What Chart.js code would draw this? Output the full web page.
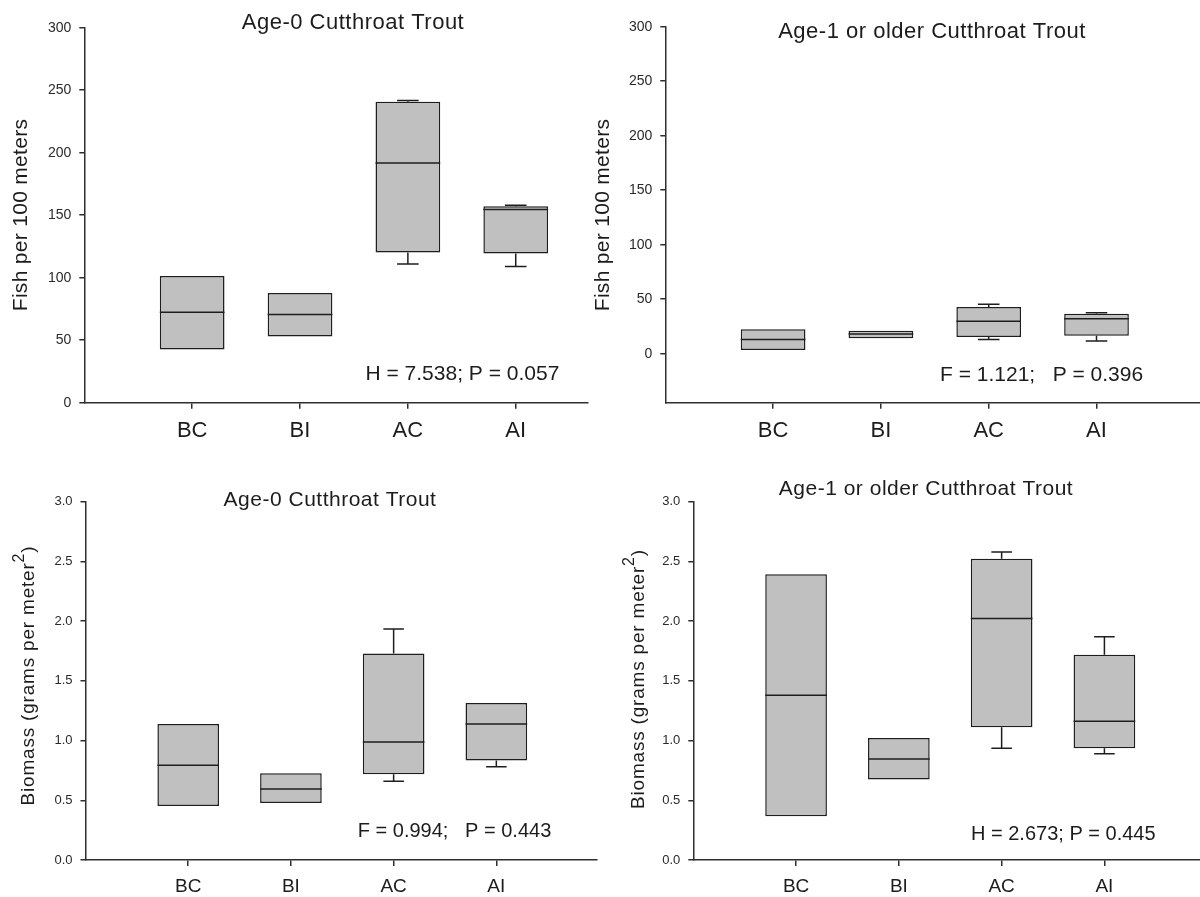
<!DOCTYPE html>
<html>
<head>
<meta charset="utf-8">
<title>Cutthroat Trout density and biomass</title>
<script src="https://cdn.jsdelivr.net/npm/chart.js@4.4.1/dist/chart.umd.min.js"></script>
<style>
  html, body { margin: 0; padding: 0; background: #fff; }
  #page { position: relative; width: 1200px; height: 897px; overflow: hidden; background: #fff; }
  #page canvas { position: absolute; display: block; }
</style>
</head>
<body>
<div id="page">
  <canvas id="density-age0" width="600" height="450" style="left:0;top:0"></canvas>
  <canvas id="density-age1" width="610" height="450" style="left:590px;top:0"></canvas>
  <canvas id="biomass-age0" width="600" height="447" style="left:0;top:450px"></canvas>
  <canvas id="biomass-age1" width="600" height="447" style="left:600px;top:450px"></canvas>
</div>
<script>
// Sites: before/after, control/impact
const categories = ['BC', 'BI', 'AC', 'AI'];

const densityTicks = [0, 50, 100, 150, 200, 250, 300];
const biomassTicks = [0, 0.5, 1.0, 1.5, 2.0, 2.5, 3.0];

// Age-0 density (fish per 100 m)
const densAge0Q1 = [42.6, 52.9, 120.2, 119.4];
const densAge0Median = [72.3, 70.5, 191.8, 154.5];
const densAge0Q3 = [101.3, 87.8, 240.7, 157.2];
const densAge0WhiskerLow = [null, null, 110.9, 109.0];
const densAge0WhiskerHigh = [null, null, 241.8, 157.9];

// Age-1+ density (fish per 100 m)
const densAge1Q1 = [3.4, 14.1, 15.3, 16.5];
const densAge1Median = [12.9, 18.1, 29.7, 32.1];
const densAge1Q3 = [22.3, 21.1, 42.9, 36.7];
const densAge1WhiskerLow = [null, null, 12.9, 11.6];
const densAge1WhiskerHigh = [null, null, 45.3, 37.6];

// Age-0 biomass (g per m2)
const bioAge0Q1 = [0.452, 0.477, 0.717, 0.834];
const bioAge0Median = [0.793, 0.594, 0.988, 1.139];
const bioAge0Q3 = [1.139, 0.726, 1.730, 1.315];
const bioAge0WhiskerLow = [null, null, 0.659, 0.781];
const bioAge0WhiskerHigh = [null, null, 1.934, null];

// Age-1+ biomass (g per m2)
const bioAge1Q1 = [0.366, 0.673, 1.111, 0.935];
const bioAge1Median = [1.379, 0.846, 2.023, 1.161];
const bioAge1Q3 = [2.392, 1.021, 2.523, 1.719];
const bioAge1WhiskerLow = [null, null, 0.935, 0.890];
const bioAge1WhiskerHigh = [null, null, 2.579, 1.870];

const FONT = '"Liberation Sans", Arial, sans-serif';
const TEXT_COLOR = '#1c1c1c';
const AXIS_COLOR = '#2e2e2e';
const BOX_FILL = '#c0c0c0';
const BOX_LINE = '#1e1e1e';

// Whiskers (drawn under the boxes) and median lines (drawn on top)
function boxDetails(s) {
  return {
    id: 'boxDetails',
    beforeDatasetsDraw(chart) {
      const { ctx, scales: { x, y } } = chart;
      const capHalf = Math.abs(x.getPixelForValue(0.1) - x.getPixelForValue(0));
      ctx.save();
      ctx.strokeStyle = BOX_LINE;
      ctx.lineWidth = 1.5;
      s.q1.forEach((lo, i) => {
        const px = x.getPixelForValue(i + 1);
        [[s.low[i], lo], [s.high[i], s.q3[i]]].forEach(([end, edge]) => {
          if (end == null) return;
          const ye = y.getPixelForValue(end);
          const yb = y.getPixelForValue(edge);
          ctx.beginPath();
          ctx.moveTo(px, yb);
          ctx.lineTo(px, ye);
          ctx.moveTo(px - capHalf, ye);
          ctx.lineTo(px + capHalf, ye);
          ctx.stroke();
        });
      });
      ctx.restore();
    },
    afterDatasetsDraw(chart) {
      const { ctx, scales: { y } } = chart;
      const meta = chart.getDatasetMeta(0);
      ctx.save();
      ctx.strokeStyle = BOX_LINE;
      ctx.lineWidth = 1.5;
      meta.data.forEach((bar, i) => {
        const ym = y.getPixelForValue(s.median[i]);
        const half = bar.width / 2;
        ctx.beginPath();
        ctx.moveTo(bar.x - half, ym);
        ctx.lineTo(bar.x + half, ym);
        ctx.stroke();
      });
      ctx.restore();
    }
  };
}

// Panel title, test statistic and rotated y title (may carry a superscript)
function panelText(t) {
  return {
    id: 'panelText',
    afterDraw(chart) {
      const ctx = chart.ctx;
      ctx.save();
      ctx.fillStyle = TEXT_COLOR;
      ctx.textBaseline = 'middle';

      ctx.font = `${t.titleSize}px ${FONT}`;
      ctx.letterSpacing = '0.5px';
      ctx.textAlign = 'center';
      ctx.fillText(t.title, t.titleX, t.titleY);

      ctx.letterSpacing = '0px';
      ctx.textAlign = 'left';
      ctx.font = `${t.statSize}px ${FONT}`;
      ctx.fillText(t.stat, t.statX, t.statY);

      ctx.translate(t.axisX, t.axisY);
      ctx.rotate(-Math.PI / 2);
      ctx.letterSpacing = t.axisSpacing;
      const widths = t.axisParts.map(p => {
        ctx.font = `${p.size}px ${FONT}`;
        return ctx.measureText(p.text).width;
      });
      let pos = -widths.reduce((a, b) => a + b, 0) / 2;
      t.axisParts.forEach((p, i) => {
        ctx.font = `${p.size}px ${FONT}`;
        ctx.fillText(p.text, pos, -(p.rise || 0));
        pos += widths[i];
      });
      ctx.restore();
    }
  };
}

function makePanel(id, cfg) {
  const ctx = document.getElementById(id).getContext('2d');
  return new Chart(ctx, {
    type: 'bar',
    data: {
      datasets: [{
        data: categories.map((c, i) => ({ x: i + 1, y: [cfg.q1[i], cfg.q3[i]] })),
        backgroundColor: BOX_FILL,
        borderColor: BOX_LINE,
        borderWidth: 1.5,
        borderSkipped: false,
        barPercentage: 0.6,
        categoryPercentage: 1
      }]
    },
    options: {
      responsive: false,
      animation: false,
      events: [],
      layout: { padding: cfg.padding },
      plugins: { legend: { display: false }, tooltip: { enabled: false }, title: { display: false } },
      scales: {
        x: {
          type: 'linear',
          min: 0,
          max: cfg.xMax,
          offset: false,
          afterBuildTicks: s => { s.ticks = categories.map((c, i) => ({ value: i + 1 })); },
          afterFit: s => { s.height = cfg.xHeight; },
          ticks: {
            callback: v => categories[v - 1] || '',
            font: { family: FONT, size: cfg.catSize },
            color: TEXT_COLOR,
            padding: 9,
            maxRotation: 0,
            autoSkip: false
          },
          grid: { display: true, offset: false, drawOnChartArea: false, drawTicks: true, tickLength: 6, color: AXIS_COLOR, lineWidth: 1.5 },
          border: { display: true, color: AXIS_COLOR, width: 1.5 }
        },
        y: {
          min: cfg.yMin,
          max: cfg.yMax,
          afterBuildTicks: s => { s.ticks = cfg.yTicks.map(v => ({ value: v })); },
          afterFit: s => { s.width = cfg.yWidth; },
          ticks: {
            callback: v => cfg.yDigits ? v.toFixed(cfg.yDigits) : String(v),
            font: { family: FONT, size: cfg.tickSize },
            color: '#2a2a2a',
            padding: 8
          },
          grid: { display: true, drawOnChartArea: false, drawTicks: true, tickLength: 5, color: AXIS_COLOR, lineWidth: 1.5 },
          border: { display: true, color: AXIS_COLOR, width: 1.5 }
        }
      }
    },
    plugins: [
      boxDetails({ q1: cfg.q1, q3: cfg.q3, median: cfg.median, low: cfg.low, high: cfg.high }),
      panelText(cfg.text)
    ]
  });
}

const densityAxis = [{ text: 'Fish per 100 meters', size: 21 }];
const biomassAxis = [
  { text: 'Biomass (grams per meter', size: 19 },
  { text: '2', size: 16, rise: 9 },
  { text: ')', size: 19 }
];

makePanel('density-age0', {
  q1: densAge0Q1, q3: densAge0Q3, median: densAge0Median, low: densAge0WhiskerLow, high: densAge0WhiskerHigh,
  yMin: 0, yMax: 300, yTicks: densityTicks, yDigits: 0, tickSize: 14,
  xMax: 4.67, yWidth: 84.3, xHeight: 47.3, catSize: 22,
  padding: { top: 27.7, right: 12, bottom: 0, left: 0 },
  text: {
    title: 'Age-0 Cutthroat Trout', titleSize: 22, titleX: 353, titleY: 22.7,
    stat: 'H = 7.538; P = 0.057', statSize: 21, statX: 365.5, statY: 374,
    axisParts: densityAxis, axisSpacing: '0.3px', axisX: 21, axisY: 215
  }
});

makePanel('density-age1', {
  q1: densAge1Q1, q3: densAge1Q3, median: densAge1Median, low: densAge1WhiskerLow, high: densAge1WhiskerHigh,
  yMin: -45, yMax: 300, yTicks: densityTicks, yDigits: 0, tickSize: 14,
  xMax: 4.96, yWidth: 75.3, xHeight: 47.3, catSize: 22,
  padding: { top: 26.7, right: 0, bottom: 0, left: 0 },
  text: {
    title: 'Age-1 or older Cutthroat Trout', titleSize: 22, titleX: 342, titleY: 32,
    stat: 'F = 1.121;   P = 0.396', statSize: 21, statX: 350, statY: 375.7,
    axisParts: densityAxis, axisSpacing: '0.3px', axisX: 13, axisY: 215
  }
});

makePanel('biomass-age0', {
  q1: bioAge0Q1, q3: bioAge0Q3, median: bioAge0Median, low: bioAge0WhiskerLow, high: bioAge0WhiskerHigh,
  yMin: 0, yMax: 3, yTicks: biomassTicks, yDigits: 1, tickSize: 13,
  xMax: 4.98, yWidth: 85.5, xHeight: 37, catSize: 19,
  padding: { top: 51.7, right: 3, bottom: 0, left: 0 },
  text: {
    title: 'Age-0 Cutthroat Trout', titleSize: 21, titleX: 330, titleY: 50,
    stat: 'F = 0.994;   P = 0.443', statSize: 20, statX: 357.8, statY: 381.7,
    axisParts: biomassAxis, axisSpacing: '0.8px', axisX: 29, axisY: 225.5
  }
});

makePanel('biomass-age1', {
  q1: bioAge1Q1, q3: bioAge1Q3, median: bioAge1Median, low: bioAge1WhiskerLow, high: bioAge1WhiskerHigh,
  yMin: 0, yMax: 3, yTicks: biomassTicks, yDigits: 1, tickSize: 13,
  xMax: 4.93, yWidth: 93.3, xHeight: 37, catSize: 19,
  padding: { top: 51.7, right: 0, bottom: 0, left: 0 },
  text: {
    title: 'Age-1 or older Cutthroat Trout', titleSize: 21, titleX: 326, titleY: 39,
    stat: 'H = 2.673; P = 0.445', statSize: 20, statX: 371, statY: 384,
    axisParts: biomassAxis, axisSpacing: '0.8px', axisX: 39, axisY: 229
  }
});
</script>
</body>
</html>
